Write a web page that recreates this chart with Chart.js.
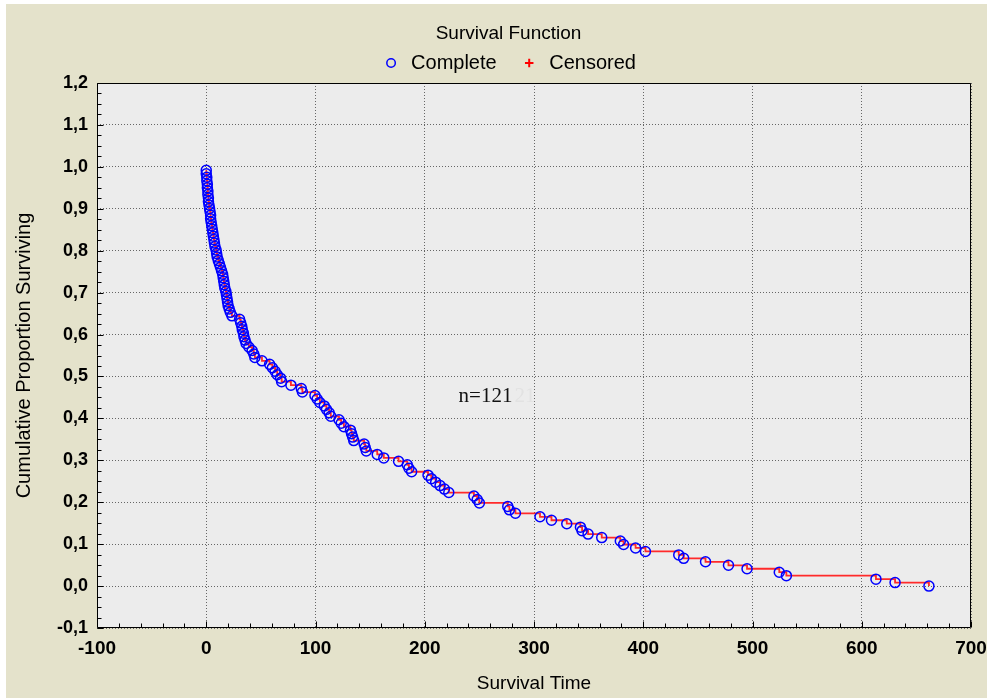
<!DOCTYPE html>
<html>
<head>
<meta charset="utf-8">
<title>Survival Function</title>
<script src="https://cdn.jsdelivr.net/npm/chart.js@4.4.1/dist/chart.umd.min.js"></script>
<style>
  html, body { margin: 0; padding: 0; background: #fff; }
  #wrap { width: 987px; height: 698px; position: relative; }
  canvas { display: block; }
</style>
</head>
<body>
<div id="wrap"><canvas id="chart"></canvas></div>
<script>
const survivalTimes = [
  0, 0, 0.5, 0.5, 1, 1, 1.5, 1.5, 2, 2,
  2.5, 3, 3.5, 4, 4, 4.5, 5, 5.5, 6, 6.5,
  7, 7.5, 8, 9, 9.5, 10, 11, 12, 13, 14,
  15, 15.5, 16, 16.5, 17, 18, 18.5, 19, 19.5, 20,
  21, 22, 23.5, 30.5, 31.5, 32.5, 33, 34, 34.5, 35.5,
  36.5, 39, 42, 43.5, 44.5, 51, 58, 60.5, 63, 65,
  68, 69, 77.5, 87, 88, 99.5, 101.5, 104, 108, 110,
  112.5, 114, 121.5, 123.5, 126, 132, 133, 134, 135, 144.5,
  145.5, 146.5, 156.5, 162.5, 176, 184, 185.5, 188, 203, 206,
  210, 214, 218, 222, 245, 248, 250, 276, 277.5, 283,
  305.5, 316, 330, 342.5, 344, 349.5, 362, 379, 382, 393,
  402, 432.5, 437, 457, 478, 495, 524.5, 531, 613, 630.5,
  661.5
];

// Cumulative proportion surviving after each of those events
const proportionSurviving = [
  0.9917, 0.9835, 0.9752, 0.9669, 0.9587, 0.9504, 0.9421, 0.9339, 0.9256, 0.9174,
  0.9091, 0.9008, 0.8926, 0.8843, 0.8760, 0.8678, 0.8595, 0.8512, 0.8430, 0.8347,
  0.8264, 0.8182, 0.8099, 0.8017, 0.7934, 0.7851, 0.7769, 0.7686, 0.7603, 0.7521,
  0.7438, 0.7355, 0.7273, 0.7190, 0.7107, 0.7025, 0.6942, 0.6860, 0.6777, 0.6694,
  0.6612, 0.6529, 0.6446, 0.6364, 0.6281, 0.6198, 0.6116, 0.6033, 0.5950, 0.5868,
  0.5785, 0.5702, 0.5620, 0.5537, 0.5455, 0.5372, 0.5289, 0.5207, 0.5124, 0.5041,
  0.4959, 0.4876, 0.4793, 0.4711, 0.4628, 0.4545, 0.4463, 0.4380, 0.4298, 0.4215,
  0.4132, 0.4050, 0.3967, 0.3884, 0.3802, 0.3719, 0.3636, 0.3554, 0.3471, 0.3388,
  0.3306, 0.3223, 0.3140, 0.3058, 0.2975, 0.2893, 0.2810, 0.2727, 0.2645, 0.2562,
  0.2479, 0.2397, 0.2314, 0.2231, 0.2149, 0.2066, 0.1983, 0.1901, 0.1818, 0.1736,
  0.1653, 0.1570, 0.1488, 0.1405, 0.1322, 0.1240, 0.1157, 0.1074, 0.0992, 0.0909,
  0.0826, 0.0744, 0.0661, 0.0579, 0.0496, 0.0413, 0.0331, 0.0248, 0.0165, 0.0083,
  0.0000
];

// no censored cases are visible, the legend entry is kept
const censoredTimes = [];
const censoredProportion = [];

const xRange = [-100, 700];
const xStep = 100;
const yRange = [-0.1, 1.2];
const yStep = 0.1;

const sampleNote = 'n=121';
const sampleNotePos = [231, 0.453];

const SANS = '"Liberation Sans", Arial, sans-serif';
const SERIF = '"Liberation Serif", "Times New Roman", serif';

const completePoints = survivalTimes.map((t, i) => ({ x: t, y: proportionSurviving[i] }));
const censoredPoints = censoredTimes.map((t, i) => ({ x: t, y: censoredProportion[i] }));

// page + plot background
const backdrop = {
  id: 'backdrop',
  beforeDraw(chart) {
    const { ctx, chartArea: a } = chart;
    ctx.save();
    ctx.fillStyle = '#ffffff';
    ctx.fillRect(0, 0, chart.width, chart.height);
    ctx.fillStyle = '#e4e2cb';
    ctx.fillRect(6, 4, chart.width - 6, chart.height - 4);
    ctx.fillStyle = '#ececec';
    ctx.fillRect(a.left, a.top, a.right - a.left, a.bottom - a.top);
    ctx.restore();
  }
};

// box frame with inward ticks, plus the n= note
const frame = {
  id: 'frame',
  afterDraw(chart) {
    const { ctx, chartArea: a } = chart;
    const xs = chart.scales.x, ys = chart.scales.y;
    const L = Math.round(a.left) + 0.5, R = Math.round(a.right) - 0.5;
    const T = Math.round(a.top) + 0.5, B = Math.round(a.bottom) - 0.5;
    ctx.save();
    ctx.strokeStyle = '#000';
    ctx.lineWidth = 1;
    ctx.beginPath();
    ctx.rect(L, T, R - L, B - T);
    for (let i = 0; i <= 40; i++) {
      const px = Math.round(xs.getPixelForValue(xRange[0] + i * 20)) + 0.5;
      const len = i % 5 === 0 ? 6 : 4;
      ctx.moveTo(px, B);
      ctx.lineTo(px, B - len);
    }
    for (let i = 0; i <= 52; i++) {
      const py = Math.round(ys.getPixelForValue(yRange[0] + i * 0.025)) + 0.5;
      const len = i % 4 === 0 ? 6 : 4;
      ctx.moveTo(L, py);
      ctx.lineTo(L + len, py);
    }
    ctx.stroke();

    ctx.font = '21px ' + SERIF;
    ctx.textBaseline = 'middle';
    ctx.textAlign = 'left';
    const nx = xs.getPixelForValue(sampleNotePos[0]);
    const ny = ys.getPixelForValue(sampleNotePos[1]);
    ctx.fillStyle = '#111';
    ctx.fillText(sampleNote, nx, ny);
    const w = ctx.measureText(sampleNote).width;
    ctx.fillStyle = '#e2e2e2';
    ctx.fillText('21', nx + w + 2, ny);
    ctx.restore();
  }
};

new Chart(document.getElementById('chart'), {
  type: 'scatter',
  data: {
    datasets: [
      {
        label: 'Complete',
        data: completePoints,
        pointStyle: 'circle',
        pointRadius: 5,
        borderWidth: 1.5,
        borderColor: '#0000ff',
        backgroundColor: 'rgba(0,0,0,0)'
      },
      {
        label: 'step',
        type: 'line',
        data: completePoints,
        stepped: 'before',
        borderColor: '#ff2a2a',
        borderWidth: 1.8,
        pointRadius: 0,
        fill: false
      },
      {
        label: 'Censored',
        data: censoredPoints,
        pointStyle: 'cross',
        pointRadius: 4.5,
        borderWidth: 2,
        borderColor: '#ff0000',
        backgroundColor: '#ff0000'
      }
    ]
  },
  options: {
    responsive: true,
    maintainAspectRatio: false,
    animation: false,
    events: [],
    layout: { padding: { left: 30, top: 0, right: 0, bottom: 0 } },
    plugins: {
      tooltip: { enabled: false },
      title: {
        display: true,
        text: 'Survival Function',
        color: '#000',
        font: { family: SANS, size: 19, weight: 'normal', lineHeight: 1 },
        padding: { top: 10, bottom: -7.5 }
      },
      legend: {
        position: 'top',
        labels: {
          usePointStyle: true,
          boxWidth: 20,
          boxHeight: 6,
          padding: 17,
          color: '#000',
          font: { family: SANS, size: 20 },
          filter: item => item.text !== 'step',
          generateLabels(chart) {
            const items = Chart.defaults.plugins.legend.labels.generateLabels(chart);
            items.forEach(it => { if (it.text === 'Complete') it.text = 'Complete '; });
            return items;
          }
        }
      }
    },
    scales: {
      x: {
        type: 'linear',
        min: xRange[0],
        max: xRange[1],
        ticks: {
          stepSize: xStep,
          color: '#000',
          font: { family: SANS, size: 19, weight: 'bold' },
          padding: 9,
          maxRotation: 0,
          autoSkip: false
        },
        grid: { color: '#666666', lineWidth: 1, drawTicks: false },
        border: { display: false, dash: [1, 2] },
        title: {
          display: true,
          text: 'Survival Time',
          color: '#000',
          font: { family: SANS, size: 19 },
          padding: { top: 0, bottom: 3 }
        },
        afterFit(s) { s.height = 70; s.paddingLeft = 0; s.paddingRight = 16; }
      },
      y: {
        type: 'linear',
        min: yRange[0],
        max: yRange[1],
        ticks: {
          stepSize: yStep,
          color: '#000',
          font: { family: SANS, size: 18, weight: 'bold' },
          padding: 9,
          callback: v => v.toFixed(1).replace('.', ',')
        },
        grid: { color: '#666666', lineWidth: 1, drawTicks: false },
        border: { display: false, dash: [1, 2] },
        title: {
          display: true,
          text: 'Cumulative Proportion Surviving',
          color: '#000',
          font: { family: SANS, size: 20 },
          padding: { top: -18, bottom: 0 }
        },
        afterFit(s) { s.width = 67; s.paddingTop = 83; s.paddingBottom = 0; }
      }
    }
  },
  plugins: [backdrop, frame]
});
</script>
</body>
</html>
